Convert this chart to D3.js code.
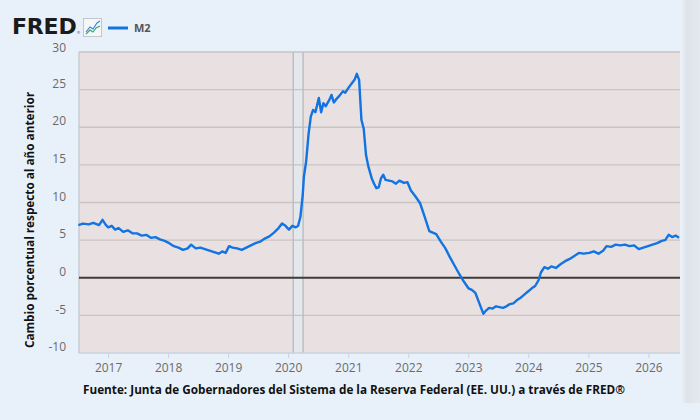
<!DOCTYPE html>
<html>
<head>
<meta charset="utf-8">
<script src="https://cdn.jsdelivr.net/npm/d3@7"></script>
<style>
  html, body { margin: 0; padding: 0; background: #e8f1fa; }
  svg { display: block; }
</style>
</head>
<body>
<div id="chart"></div>
<script>
// M2, weekly readings, % change from a year ago
const dates = [
  "2016-07-04","2016-08-01","2016-09-05","2016-10-03","2016-11-07","2016-11-28","2016-12-19",
  "2017-01-02","2017-01-23","2017-02-13","2017-03-06","2017-04-03","2017-05-01","2017-05-29","2017-06-26",
  "2017-07-24","2017-08-21","2017-09-18","2017-10-16","2017-11-13","2017-12-11",
  "2018-01-08","2018-02-05","2018-03-05","2018-04-02","2018-04-30","2018-05-21","2018-06-18","2018-07-16",
  "2018-08-13","2018-09-10","2018-10-08","2018-11-05","2018-11-26","2018-12-17",
  "2019-01-07","2019-01-28","2019-02-25","2019-03-25","2019-04-22","2019-05-20","2019-06-17","2019-07-15",
  "2019-08-12","2019-09-09","2019-10-07","2019-11-04","2019-11-25","2019-12-16",
  "2020-01-06","2020-01-27","2020-02-17","2020-03-02","2020-03-16","2020-03-30","2020-04-06","2020-04-20",
  "2020-05-04","2020-05-18","2020-06-01","2020-06-15","2020-07-06","2020-07-20","2020-08-03","2020-08-17",
  "2020-09-07","2020-09-21","2020-10-05","2020-10-19","2020-11-09","2020-11-30","2020-12-14",
  "2021-01-04","2021-01-25","2021-02-08","2021-02-22","2021-03-08","2021-03-22","2021-04-05","2021-04-19",
  "2021-05-03","2021-05-24","2021-06-07","2021-06-21","2021-07-05","2021-07-19","2021-08-02","2021-08-16",
  "2021-09-06","2021-09-27","2021-10-18","2021-11-08","2021-12-06","2021-12-27",
  "2022-01-17","2022-02-14","2022-03-14","2022-04-11","2022-05-09","2022-05-30","2022-06-20","2022-07-18",
  "2022-08-15","2022-09-12","2022-10-10","2022-11-07","2022-12-05",
  "2023-01-02","2023-01-23","2023-02-13","2023-03-06","2023-04-03","2023-04-17","2023-05-08","2023-05-29",
  "2023-06-19","2023-07-10","2023-07-31","2023-08-21","2023-09-11","2023-10-02","2023-10-23","2023-11-13","2023-12-04",
  "2024-01-01","2024-01-22","2024-02-12","2024-03-04","2024-03-18","2024-04-08","2024-04-29","2024-05-20",
  "2024-06-17","2024-07-15","2024-08-12","2024-09-09","2024-10-07","2024-11-04","2024-12-02",
  "2025-01-06","2025-02-03","2025-03-03","2025-03-31","2025-04-21","2025-05-19","2025-06-16","2025-07-14",
  "2025-08-11","2025-09-08","2025-10-06","2025-11-03","2025-12-01","2025-12-29",
  "2026-01-26","2026-02-23","2026-03-23","2026-04-13","2026-05-04","2026-05-25","2026-06-15","2026-07-06"
];
const m2 = [
  7.0, 7.2, 7.1, 7.3, 7.0, 7.7, 7.0,
  6.7, 6.9, 6.4, 6.6, 6.1, 6.3, 5.9, 5.9,
  5.6, 5.7, 5.3, 5.4, 5.1, 4.9,
  4.6, 4.2, 4.0, 3.7, 3.9, 4.4, 3.9, 4.0,
  3.8, 3.6, 3.4, 3.2, 3.5, 3.3,
  4.2, 4.0, 3.9, 3.7, 4.0, 4.3, 4.6, 4.8,
  5.2, 5.5, 6.0, 6.6, 7.2, 6.9,
  6.4, 6.9, 6.7, 6.9, 8.1, 11.0, 13.4, 15.5,
  19.0, 21.4, 22.3, 22.0, 23.9, 22.0, 23.2, 22.8,
  23.6, 24.3, 23.3, 23.7, 24.2, 24.8, 24.6,
  25.3, 25.9, 26.3, 27.1, 26.3, 21.0, 19.8, 16.3,
  14.8, 13.2, 12.5, 11.9, 12.0, 13.2, 13.7, 13.0,
  12.9, 12.8, 12.5, 12.9, 12.6, 12.7,
  11.6, 10.8, 9.9, 8.1, 6.2, 6.0, 5.8, 4.8,
  3.9, 2.7, 1.6, 0.5, -0.5,
  -1.4, -1.6, -2.0, -3.2, -4.8, -4.4, -4.0, -4.1,
  -3.8, -3.9, -4.0, -3.8, -3.5, -3.4, -3.0, -2.7, -2.3,
  -1.8, -1.4, -1.1, -0.3, 0.7, 1.4, 1.2, 1.5,
  1.3, 1.8, 2.2, 2.5, 2.9, 3.3, 3.2,
  3.3, 3.5, 3.2, 3.6, 4.2, 4.1, 4.4, 4.3,
  4.4, 4.2, 4.3, 3.8, 4.0, 4.2,
  4.4, 4.6, 4.9, 5.0, 5.7, 5.4, 5.6, 5.3
];
const yTicks = [30, 25, 20, 15, 10, 5, 0, -5, -10];
const xTickYears = [2017, 2018, 2019, 2020, 2021, 2022, 2023, 2024, 2025, 2026];
const recession = ["2020-02-01", "2020-04-01"];

const W = 700, H = 420;
const margin = { top: 52, right: 20, bottom: 67, left: 79 };
const width = W - margin.left - margin.right;
const height = H - margin.top - margin.bottom;

const parseDate = d3.timeParse("%Y-%m-%d");
const data = dates.map((d, i) => ({ date: parseDate(d), value: m2[i] }));

const svg = d3.select("#chart")
  .append("svg")
  .attr("width", W)
  .attr("height", H);

// card shadow on the right edge
const defs = svg.append("defs");
const grad = defs.append("linearGradient").attr("id", "edge").attr("x1", "0").attr("x2", "1");
grad.append("stop").attr("offset", "0").attr("stop-color", "#eef3f8");
grad.append("stop").attr("offset", "0.3").attr("stop-color", "#dde3ea");
grad.append("stop").attr("offset", "1").attr("stop-color", "#e4e9ef");
svg.append("rect")
  .attr("x", 681).attr("y", 0)
  .attr("width", 19).attr("height", 403)
  .attr("fill", "url(#edge)");

const g = svg.append("g")
  .attr("transform", `translate(${margin.left}, ${margin.top})`);

const x = d3.scaleTime()
  .domain([parseDate("2016-07-08"), parseDate("2026-07-12")])
  .range([0, width]);
const y = d3.scaleLinear()
  .domain([-10, 30])
  .range([height, 0]);

// plot background
g.append("rect")
  .attr("width", width)
  .attr("height", height)
  .attr("fill", "#e9e1e1");

// recession shading
const rx0 = x(parseDate(recession[0])), rx1 = x(parseDate(recession[1]));
g.append("rect")
  .attr("x", rx0).attr("y", 0)
  .attr("width", rx1 - rx0).attr("height", height)
  .attr("fill", "#e4e7eb");

// horizontal gridlines
g.append("g")
  .selectAll("line")
  .data(yTicks.filter(d => d !== 0 && d !== -10))
  .join("line")
    .attr("x1", 0).attr("x2", width)
    .attr("y1", d => y(d)).attr("y2", d => y(d))
    .attr("stroke", "#c9c3c3")
    .attr("stroke-width", 1.3);

// recession borders
g.selectAll(".rec-edge")
  .data([rx0, rx1])
  .join("line")
    .attr("class", "rec-edge")
    .attr("x1", d => d).attr("x2", d => d)
    .attr("y1", 0).attr("y2", height)
    .attr("stroke", "#b9b9bb")
    .attr("stroke-width", 1.3);

// left border and bottom axis line
g.append("line")
  .attr("x1", 0).attr("x2", 0).attr("y1", 0).attr("y2", height)
  .attr("stroke", "#c4c8cf").attr("stroke-width", 1.3);
g.append("line")
  .attr("x1", 0).attr("x2", width).attr("y1", height).attr("y2", height)
  .attr("stroke", "#c9d2de").attr("stroke-width", 1.5);

// zero line
g.append("line")
  .attr("x1", 0).attr("x2", width)
  .attr("y1", y(0)).attr("y2", y(0))
  .attr("stroke", "#3d3a3a")
  .attr("stroke-width", 2);

// Y tick labels (sit just above gridlines)
g.append("g")
  .selectAll("text")
  .data(yTicks)
  .join("text")
    .attr("x", -13)
    .attr("y", d => y(d) - (d === 30 ? 4 : 6))
    .attr("dy", "0.35em")
    .attr("text-anchor", "end")
    .style("font-family", "'Open Sans', sans-serif")
    .style("font-size", "12px")
    .style("fill", "#6b6b6b")
    .text(d => d);

// X axis
const xTicks = xTickYears.map(yr => new Date(yr, 0, 1));
const xAxis = g.append("g")
  .attr("transform", `translate(0, ${height})`)
  .call(d3.axisBottom(x).tickValues(xTicks).tickFormat(d3.timeFormat("%Y")).tickSize(5).tickPadding(5));
xAxis.select(".domain").remove();
xAxis.selectAll(".tick line").attr("stroke", "#c9d2de");
xAxis.selectAll(".tick text")
  .style("font-family", "'Open Sans', sans-serif")
  .style("font-size", "12px")
  .style("fill", "#6b6b6b");

// M2 line
g.append("path")
  .datum(data)
  .attr("fill", "none")
  .attr("stroke", "#1273e2")
  .attr("stroke-width", 2.4)
  .attr("stroke-linejoin", "round")
  .attr("d", d3.line().x(d => x(d.date)).y(d => y(d.value)));

// Y axis title
svg.append("text")
  .attr("transform", "rotate(-90)")
  .attr("x", -220)
  .attr("y", 34)
  .attr("textLength", 256)
  .attr("lengthAdjust", "spacingAndGlyphs")
  .style("text-anchor", "middle")
  .style("font-family", "'Open Sans', sans-serif")
  .style("font-weight", "bold")
  .style("font-size", "12px")
  .style("fill", "#111")
  .text("Cambio porcentual respecto al año anterior");

// source note
svg.append("text")
  .attr("x", 83)
  .attr("y", 393.5)
  .attr("textLength", 542)
  .attr("lengthAdjust", "spacingAndGlyphs")
  .style("font-family", "'Open Sans', sans-serif")
  .style("font-weight", "bold")
  .style("font-size", "11.5px")
  .style("fill", "#111")
  .text("Fuente: Junta de Gobernadores del Sistema de la Reserva Federal (EE. UU.) a través de FRED®");

// FRED logo + legend
const head = svg.append("g");
const logo = head.append("text")
  .attr("x", 12).attr("y", 34)
  .style("font-family", "'DejaVu Sans', sans-serif")
  .style("font-weight", "bold")
  .style("font-size", "22px")
  .style("fill", "#1b1b1b");
logo.append("tspan")
  .style("letter-spacing", "-0.2px")
  .text("FRED");
logo.append("tspan")
  .style("font-size", "4px")
  .style("font-weight", "normal")
  .style("fill", "#555")
  .text("®");
head.append("rect")
  .attr("x", 83.5).attr("y", 18.5).attr("width", 18).attr("height", 18)
  .attr("fill", "#f4f6f8").attr("stroke", "#c3c8ce");
head.append("path")
  .attr("d", "M86,32 L90,27 L93,29 L97,23 L100,21")
  .attr("fill", "none").attr("stroke", "#3b7fd8").attr("stroke-width", 1.1);
head.append("path")
  .attr("d", "M86,34 L90,30 L93,32 L96,28 L100,26")
  .attr("fill", "none").attr("stroke", "#33a86b").attr("stroke-width", 1.1);
head.append("line")
  .attr("x1", 108).attr("x2", 128).attr("y1", 28).attr("y2", 28)
  .attr("stroke", "#1273e2").attr("stroke-width", 3);
head.append("text")
  .attr("x", 134).attr("y", 32)
  .style("font-family", "'Open Sans', sans-serif")
  .style("font-weight", "bold")
  .style("font-size", "11px")
  .style("fill", "#555")
  .text("M2");
</script>
</body>
</html>
